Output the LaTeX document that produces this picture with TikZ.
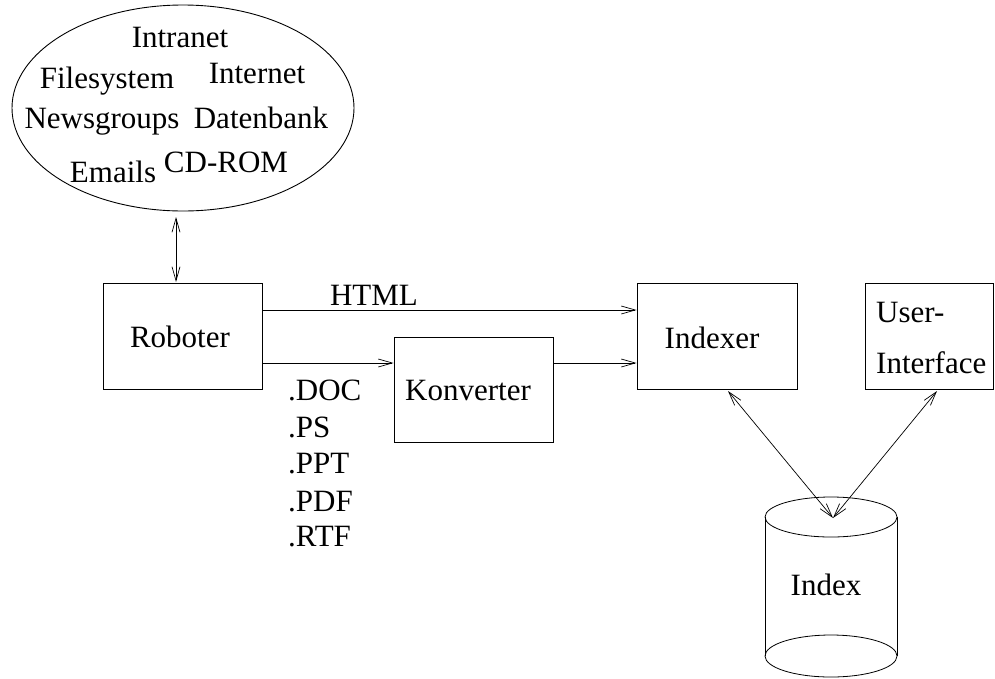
\documentclass[tikz,border=0pt]{standalone}
\usepackage{fontspec}
\setmainfont{Liberation Serif}
\usetikzlibrary{arrows.meta,shapes.geometric}
\begin{document}
\begin{tikzpicture}[x=1pt,y=-1pt,
  every node/.style={font=\fontsize{31}{36}\selectfont},
  lbl/.style={anchor=base,inner sep=0pt},
  lblw/.style={anchor=base west,inner sep=0pt},
  boxn/.style={draw,line width=0.9pt,inner sep=0pt,rectangle},
  conn/.style={line width=0.7pt,-{Straight Barb[length=14pt,width=8pt,line width=0.7pt]}},
  dconn/.style={line width=0.7pt,{Straight Barb[length=14pt,width=8pt,line width=0.7pt]}-{Straight Barb[length=14pt,width=8pt,line width=0.7pt]}}
]
\useasboundingbox (0,0) rectangle (995,678);

% source ellipse
\node[draw,ellipse,line width=0.9pt,minimum width=342pt,minimum height=206pt,inner sep=0pt] (src) at (183,108) {};
\node[lbl] (t1) at (180,47) {Intranet};
\node[lbl] (t2) at (107,88) {Filesystem};
\node[lbl] (t3) at (257,83) {Internet};
\node[lbl] (t4) at (102,128) {Newsgroups};
\node[lbl] (t5) at (261,128) {Datenbank};
\node[lbl] (t6) at (113,182) {Emails};
\node[lbl] (t7) at (226,172) {CD-ROM};

% boxes
\node[boxn,minimum width=159pt,minimum height=106pt] (rob) at (182.5,336) {};
\node[lbl] (robt) at (180,347) {Roboter};
\node[boxn,minimum width=159pt,minimum height=105pt] (konv) at (473.5,389.5) {};
\node[lbl] (konvt) at (468,400) {Konverter};
\node[boxn,minimum width=160pt,minimum height=106pt] (idxr) at (717,336) {};
\node[lbl] (idxrt) at (712,348) {Indexer};
\node[boxn,minimum width=128pt,minimum height=106pt] (ui) at (929,336) {};
\node[lblw] (uit1) at (876,322) {User-};
\node[lblw] (uit2) at (876,373) {Interface};

% labels
\node[lbl] (html) at (374,305) {HTML};
\node[lblw] (f1) at (288,400) {.DOC};
\node[lblw] (f2) at (288,437) {.PS};
\node[lblw] (f3) at (288,473) {.PPT};
\node[lblw] (f4) at (288,511) {.PDF};
\node[lblw] (f5) at (288,546) {.RTF};

% cylinder
\draw[line width=0.8pt] (765,517) -- (765,656);
\draw[line width=0.8pt] (897,517) -- (897,656);
\draw[line width=0.8pt] (831,517) ellipse [x radius=66pt, y radius=20pt];
\draw[line width=0.8pt] (831,656) ellipse [x radius=66pt, y radius=21pt];
\node[lbl] (idx) at (826,595) {Index};
\coordinate (idxtop) at (833,518);

% connectors
\coordinate (s1) at (176,217);
\coordinate (s2) at (176,282);
\draw[dconn] (s1) -- (s2);
\draw[conn] (rob.east |- 0,310) -- (idxr.west |- 0,310);
\draw[conn] (rob.east |- 0,363) -- (konv.west |- 0,363);
\draw[conn] (konv.east |- 0,363) -- (idxr.west |- 0,363);
\coordinate (a1) at (728,391);
\coordinate (a2) at (937,391);
\draw[dconn] (a1) -- (idxtop);
\draw[dconn] (a2) -- (idxtop);
\end{tikzpicture}
\end{document}
